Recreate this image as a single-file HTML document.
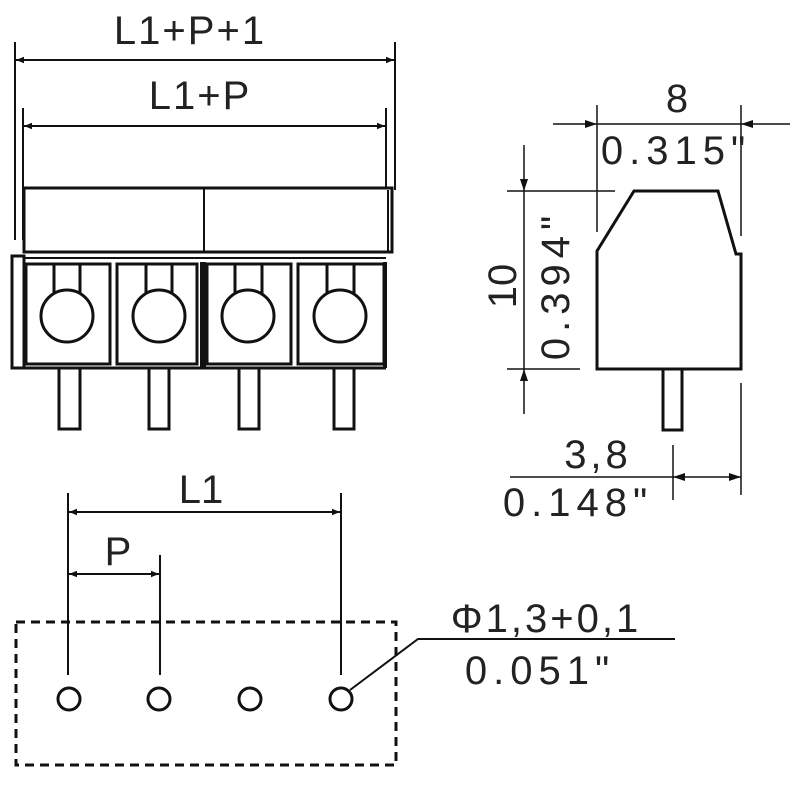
<!DOCTYPE html>
<html><head><meta charset="utf-8"><style>
html,body{margin:0;padding:0;background:#fff;}
svg{display:block}
text{font-family:"Liberation Sans","DejaVu Sans",sans-serif;fill:#222;font-weight:normal}
</style></head><body>
<svg width="800" height="791" viewBox="0 0 800 791" xmlns="http://www.w3.org/2000/svg">
<defs>
<marker id="a" viewBox="0 0 10 10" refX="10" refY="5" markerWidth="4" markerHeight="4" orient="auto-start-reverse"><path d="M0,1 L10,5 L0,9 z" fill="#111"/></marker>
</defs>
<g stroke="#111" fill="none">
<!-- top dims -->
<line x1="15" y1="42" x2="15" y2="240" stroke-width="2"/>
<line x1="395" y1="42" x2="395" y2="190" stroke-width="2"/>
<line x1="23" y1="108" x2="23" y2="240" stroke-width="2"/>
<line x1="386" y1="108" x2="386" y2="190" stroke-width="2"/>
<line x1="16" y1="60" x2="394" y2="60" stroke-width="2" marker-start="url(#a)" marker-end="url(#a)"/>
<line x1="24" y1="126" x2="385" y2="126" stroke-width="2" marker-start="url(#a)" marker-end="url(#a)"/>
<!-- front view -->
<rect x="24" y="188" width="368" height="64" stroke-width="3" fill="#fff"/>
<line x1="204" y1="188" x2="204" y2="252" stroke-width="2"/>
<line x1="388" y1="190" x2="388" y2="252" stroke-width="2"/>
<rect x="12" y="256" width="12" height="112" stroke-width="3"/>
<line x1="24" y1="368" x2="386" y2="368" stroke-width="3"/>
<line x1="24" y1="258" x2="386" y2="258" stroke-width="2"/>
<rect x="26" y="264" width="84" height="100" stroke-width="3"/>
<rect x="117" y="264" width="80" height="100" stroke-width="3"/>
<rect x="207" y="264" width="84" height="100" stroke-width="3"/>
<rect x="298" y="264" width="86" height="100" stroke-width="3"/>
<line x1="203" y1="262" x2="203" y2="368" stroke-width="6"/>
<line x1="385" y1="262" x2="385" y2="368" stroke-width="4"/>
<g stroke-width="3" fill="#fff">
<path d="M54,264 V298 M80,264 V298"/><circle cx="67" cy="316" r="26"/>
<path d="M146,264 V298 M172,264 V298"/><circle cx="159" cy="316" r="26"/>
<path d="M235,264 V298 M262,264 V298"/><circle cx="248" cy="316" r="26"/>
<path d="M327,264 V298 M354,264 V298"/><circle cx="340" cy="316" r="26"/>
<rect x="59" y="368" width="21" height="61"/>
<rect x="149" y="368" width="20" height="61"/>
<rect x="239" y="368" width="20" height="61"/>
<rect x="334" y="368" width="20" height="61"/>
</g>
<!-- side view -->
<path d="M597,251 L634,191 L718,191 L736,254 L741,254 L741,369 L597,369 Z" stroke-width="3" fill="#fff"/>
<rect x="663" y="369" width="19" height="61" stroke-width="3"/>
<line x1="597" y1="105" x2="597" y2="232" stroke-width="1.5"/>
<line x1="741" y1="105" x2="741" y2="236" stroke-width="1.5"/>
<line x1="553" y1="124" x2="790" y2="124" stroke-width="1.5"/>
<path d="M597,124 l-12,-4 v8 z M741,124 l12,-4 v8 z" fill="#111" stroke="none"/>
<line x1="507" y1="191" x2="615" y2="191" stroke-width="1.5"/>
<line x1="507" y1="369" x2="580" y2="369" stroke-width="1.5"/>
<line x1="524" y1="145" x2="524" y2="414" stroke-width="1.5"/>
<path d="M524,191 l-4,-12 h8 z M524,369 l-4,12 h8 z" fill="#111" stroke="none"/>
<line x1="741" y1="383" x2="741" y2="495" stroke-width="1.5"/>
<line x1="673" y1="445" x2="673" y2="500" stroke-width="1.5"/>
<line x1="510" y1="477" x2="741" y2="477" stroke-width="1.5"/>
<path d="M673,477 l12,-4 v8 z M741,477 l-12,-4 v8 z" fill="#111" stroke="none"/>
<!-- bottom -->
<rect x="16" y="622" width="380" height="143" stroke-width="3" stroke-dasharray="9,6"/>
<line x1="68" y1="493" x2="68" y2="675" stroke-width="2"/>
<line x1="341" y1="493" x2="341" y2="675" stroke-width="2"/>
<line x1="160" y1="555" x2="160" y2="675" stroke-width="2"/>
<line x1="69" y1="512" x2="340" y2="512" stroke-width="2" marker-start="url(#a)" marker-end="url(#a)"/>
<line x1="69" y1="574" x2="159" y2="574" stroke-width="2" marker-start="url(#a)" marker-end="url(#a)"/>
<g stroke-width="3"><circle cx="69" cy="699" r="11"/><circle cx="159" cy="699" r="11"/><circle cx="250" cy="699" r="11"/><circle cx="341" cy="699" r="11"/></g>
<path d="M350,690 L418,639 L675,639" stroke-width="2"/>
</g>
<g font-size="40">
<text x="190" y="44" text-anchor="middle" letter-spacing="2">L1+P+1</text>
<text x="200" y="109" text-anchor="middle" letter-spacing="2">L1+P</text>
<text x="677" y="112" text-anchor="middle">8</text>
<text x="676" y="164" text-anchor="middle" letter-spacing="6">0.315"</text>
<text x="598" y="468" text-anchor="middle" letter-spacing="4">3,8</text>
<text x="578" y="516" text-anchor="middle" letter-spacing="6">0.148"</text>
<text x="201" y="503" text-anchor="middle">L1</text>
<text x="118" y="565" text-anchor="middle">P</text>
<text x="546" y="632" text-anchor="middle" letter-spacing="3">Φ1,3+0,1</text>
<text x="540" y="684" text-anchor="middle" letter-spacing="6">0.051"</text>
<text transform="translate(516,286) rotate(-90)" text-anchor="middle">10</text>
<text transform="translate(569,285) rotate(-90)" text-anchor="middle" letter-spacing="6">0.394"</text>
</g>
</svg>
</body></html>
